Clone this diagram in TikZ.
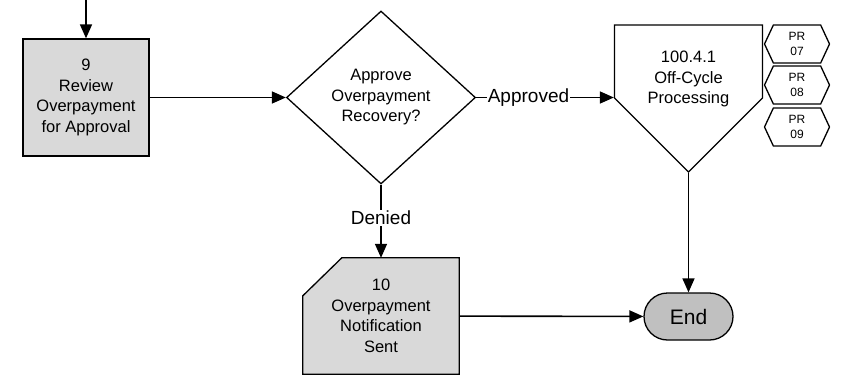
\documentclass[tikz,border=0pt]{standalone}
\usepackage{fontspec}
\setmainfont{Liberation Sans}
\usepackage{tikz}
\usetikzlibrary{arrows.meta, shapes.geometric, shapes.symbols, shapes.misc}
\definecolor{stepgray}{HTML}{D9D9D9}
\definecolor{endgray}{HTML}{C0C0C0}

\begin{document}
\begin{tikzpicture}[
    x=1pt, y=-1pt,
    boxfont/.style={font=\fontsize{16.5}{20.5}\selectfont},
    shapeline/.style={draw, line width=1.3pt, inner sep=0pt, align=center, boxfont},
    box/.style={shapeline, rectangle, fill=stepgray, minimum width=126pt, minimum height=117pt},
    decision/.style={shapeline, diamond, fill=white, minimum width=189pt, minimum height=173pt},
    offpage/.style={shapeline, signal, signal to=south, signal pointer angle=90, minimum width=148pt, minimum height=73pt},
    notice/.style={rectangle, inner sep=0pt, minimum width=156pt, minimum height=116pt},
    ref/.style={shapeline, signal, signal to=east and west, signal pointer angle=130, minimum width=65pt, minimum height=38pt, font=\fontsize{12}{15.5}\selectfont},
    terminal/.style={shapeline, rounded rectangle, fill=endgray, minimum width=89pt, minimum height=47pt, font=\fontsize{21}{25}\selectfont},
    edgelabel/.style={fill=white, inner sep=1pt, font=\fontsize{19}{23}\selectfont},
    arrow/.style={-{Triangle[length=14pt, width=12pt]}, line width=1.6pt}
]
    \useasboundingbox (0,0) rectangle (845,375);

    % Steps
    \coordinate (top) at (86, 0);
    \node[box] (review) at (86, 97.5) {9\\Review\\Overpayment\\for Approval};
    \node[decision] (approve) at (381, 97.5) {Approve\\Overpayment\\Recovery?};
    \node[offpage] (offcycle) at (688.5, 61.5) {};
    \node[align=center, boxfont] (offtext) at (688.5, 79) {100.4.1\\Off-Cycle\\Processing};

    % Referenced processes
    \node[ref] (pr07) at (797, 44) {PR\\07};
    \node[ref] (pr08) at (797, 85) {PR\\08};
    \node[ref] (pr09) at (797, 127) {PR\\09};

    % Denied branch: box with cut corner
    \node[notice] (notice) at (381, 316) {};
    \draw[line width=1.3pt, fill=stepgray] ([xshift=39pt]notice.north west) -- (notice.north east)
        -- (notice.south east) -- (notice.south west) -- ([yshift=-38pt]notice.north west) -- cycle;
    \node[align=center, boxfont] (noticetext) at (notice) {10\\Overpayment\\Notification\\Sent};
    \node[terminal] (end) at (688.5, 316.5) {End};

    % Arrows
    \draw[arrow] (top) -- (review);
    \draw[arrow] (review) -- (approve);
    \draw[arrow] (approve) -- node[pos=0.38, edgelabel] {Approved} (approve -| offcycle.west);
    \draw[arrow] (approve) -- node[pos=0.45, edgelabel] {Denied} (notice);
    \draw[arrow] (offcycle) -- (end);
    \draw[arrow] (notice) -- (end);
\end{tikzpicture}
\end{document}
